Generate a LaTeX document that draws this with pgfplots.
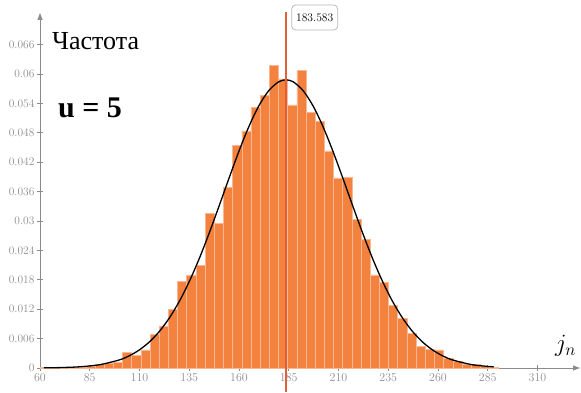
\documentclass[border=0pt]{standalone}
\usepackage{fontspec}
\usepackage{pgfplots}
\pgfplotsset{compat=1.18}
\usetikzlibrary{arrows.meta}
\newfontfamily\timesfont{Liberation Serif}
\definecolor{barfill}{HTML}{F4823F}
\definecolor{baredge}{HTML}{F9B891}
\definecolor{redline}{HTML}{E0603A}
\definecolor{axgray}{HTML}{8C8C8C}
\begin{document}
\begin{tikzpicture}
\begin{axis}[
  scale only axis,
  width=540pt, height=355pt,
  xmin=60, xmax=331.36,
  ymin=0, ymax=0.072449,
  clip=false,
  scaled y ticks=false, scaled x ticks=false,
  axis x line=bottom, axis y line=left,
  axis line style={axgray, line width=0.8pt, -{Triangle[length=7pt,width=5pt]}},
  xtick={60,85,110,135,160,185,210,235,260,285,310},
  ytick={0,0.006,0.012,0.018,0.024,0.03,0.036,0.042,0.048,0.054,0.06,0.066},
  yticklabels={0,0.006,0.012,0.018,0.024,0.03,0.036,0.042,0.048,0.054,0.06,0.066},
  tick align=center,
  major tick length=6pt,
  tick style={axgray, line width=0.6pt},
  tick label style={font=\fontsize{11.5}{12}\selectfont, text=axgray},
  xticklabel style={yshift=1pt},
  yticklabel style={xshift=1pt},
]
\addplot[ybar interval, fill=barfill, draw=baredge, line width=0.6pt] coordinates {
(60,0.0001) (64.61,0.00005) (69.22,0.00005) (73.83,0.0001) (78.44,0.0001)
(83.05,0.0003) (87.66,0.00075) (92.27,0.0009) (96.88,0.0012) (101.49,0.0032)
(106.1,0.0025) (110.71,0.0037) (115.32,0.0069) (119.93,0.0086) (124.54,0.0120)
(129.15,0.0177) (133.76,0.0190) (138.37,0.0210) (142.98,0.0316) (147.59,0.0295)
(152.2,0.0369) (156.81,0.0455) (161.42,0.0484) (166.03,0.0532) (170.64,0.0556)
(175.25,0.0617) (179.86,0.0590) (184.47,0.0537) (189.08,0.0607) (193.69,0.0522)
(198.3,0.0503) (202.91,0.0443) (207.52,0.0388) (212.13,0.0389) (216.74,0.0304)
(221.35,0.0263) (225.96,0.0190) (230.57,0.0175) (235.18,0.0127) (239.79,0.0102)
(244.4,0.0071) (249.01,0.0044) (253.62,0.0038) (258.23,0.0037) (262.84,0.0020)
(267.45,0.0013) (272.06,0.0008) (276.67,0.0008) (281.28,0.0004) (285.89,0.00015)
(290.5,0)
};
\addplot[smooth, black, line width=1.3pt] coordinates {
(62,0.000031) (70,0.000081) (80,0.000246) (90,0.000673) (100,0.001665)
(105,0.002517) (110,0.00371) (115,0.005333) (120,0.007473) (125,0.01021)
(130,0.01359) (135,0.01764) (140,0.0223) (145,0.02751) (150,0.03307)
(155,0.03875) (160,0.04427) (165,0.0493) (170,0.05352) (175,0.05663)
(180,0.05842) (183.583,0.0588) (187.166,0.05842) (192.166,0.05663) (197.166,0.05352)
(202.166,0.0493) (207.166,0.04427) (212.166,0.03875) (217.166,0.03307) (222.166,0.02751)
(227.166,0.0223) (232.166,0.01764) (237.166,0.01359) (242.166,0.01021) (247.166,0.007473)
(252.166,0.005333) (257.166,0.00371) (262.166,0.002517) (267.166,0.001665) (277.166,0.000673)
(288,0.00022)
};
\addplot[redline, line width=1.6pt] coordinates {(183.583,-0.0049) (183.583,0.07265)};
\end{axis}
\node[anchor=base west, inner sep=0pt] at (12pt,318pt) {\timesfont\fontsize{26}{30}\selectfont Частота};
\node[anchor=base west, inner sep=0pt] at (18pt,250pt) {\timesfont\bfseries\fontsize{30}{34}\selectfont u = 5};
\node[anchor=base west, inner sep=0pt] at (515pt,16pt) {\fontsize{24}{28}\selectfont $j_n$};
\node[draw=gray!55, fill=white, rounded corners=4pt, line width=0.8pt, minimum width=46pt, minimum height=25pt, inner sep=0pt] at (274.7pt,350.5pt) {\fontsize{11.6}{12}\selectfont 183.583};
\useasboundingbox (-40pt,-24pt) rectangle (541pt,368pt);
\end{tikzpicture}
\end{document}
